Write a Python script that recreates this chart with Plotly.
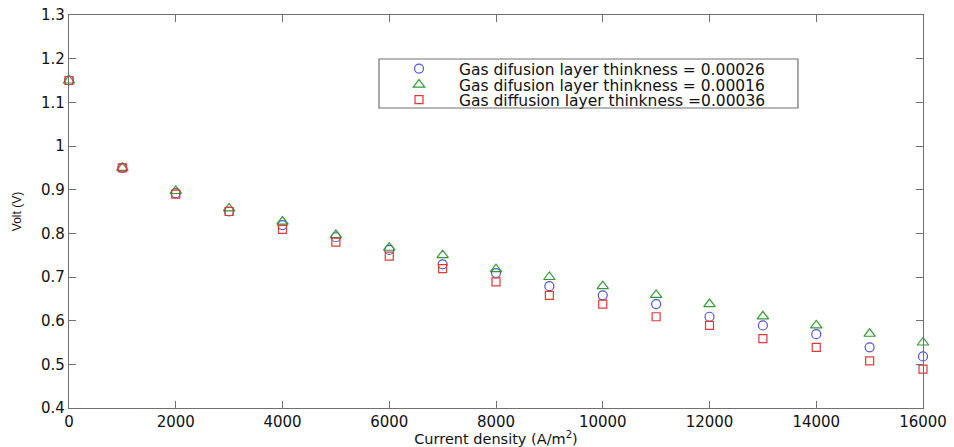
import plotly.graph_objects as go

current = [0, 1000, 2000, 3000, 4000, 5000, 6000, 7000, 8000, 9000, 10000,
           11000, 12000, 13000, 14000, 15000, 16000]
volt_026 = [1.15, 0.95, 0.892, 0.850, 0.819, 0.791, 0.762, 0.729, 0.709, 0.679, 0.658,
            0.638, 0.609, 0.589, 0.569, 0.539, 0.518]
volt_016 = [1.15, 0.95, 0.897, 0.857, 0.827, 0.796, 0.767, 0.750, 0.718, 0.700, 0.679,
            0.659, 0.638, 0.610, 0.589, 0.570, 0.550]
volt_036 = [1.15, 0.95, 0.890, 0.850, 0.809, 0.780, 0.748, 0.719, 0.689, 0.658, 0.638,
            0.609, 0.589, 0.559, 0.539, 0.508, 0.489]

names = ["Gas difusion layer thinkness = 0.00026",
         "Gas difusion layer thinkness = 0.00016",
         "Gas diffusion layer thinkness =0.00036"]

x_ticks = [0, 2000, 4000, 6000, 8000, 10000, 12000, 14000, 16000]
x_tick_text = ["0", "2000", "4000", "6000", "8000", "10000", "12000", "14000", "16000"]
y_ticks = [0.4, 0.5, 0.6, 0.7, 0.8, 0.9, 1.0, 1.1, 1.2, 1.3]
y_tick_text = ["0.4", "0.5", "0.6", "0.7", "0.8", "0.9", "1", "1.1", "1.2", "1.3"]

FONT = "DejaVu Sans"
AXC = "#707070"

fig = go.Figure()
fig.add_trace(go.Scatter(x=current, y=volt_026, mode="markers", name=names[0], cliponaxis=False,
                         legend="legend",
                         marker=dict(symbol="circle-open", size=9, color="#5050d8",
                                     line=dict(width=1.2))))
fig.add_trace(go.Scatter(x=current, y=volt_016, mode="markers", name=names[1], cliponaxis=False,
                         legend="legend2",
                         marker=dict(symbol="triangle-up-open", size=10, color="#339933",
                                     line=dict(width=1.2))))
fig.add_trace(go.Scatter(x=current, y=volt_036, mode="markers", name=names[2], cliponaxis=False,
                         legend="legend3",
                         marker=dict(symbol="square-open", size=8, color="#e03838",
                                     line=dict(width=1.2))))

axis_common = dict(showgrid=False, zeroline=False, showline=True, linecolor=AXC,
                   linewidth=1.3, mirror="ticks", ticks="inside", ticklen=7,
                   tickcolor=AXC, automargin=False, ticklabeloverflow="allow",
                   tickfont=dict(family=FONT, size=15, color="#111"))

fig.update_xaxes(range=[0, 16000], tickvals=x_ticks, ticktext=x_tick_text,
                 title=dict(text="Current density (A/m<sup>2</sup>)",
                            font=dict(family=FONT, size=14.5, color="#111"), standoff=0),
                 **axis_common)
fig.update_yaxes(range=[0.4, 1.3], tickvals=y_ticks, ticktext=y_tick_text,
                 title=dict(text="Volt (V)",
                            font=dict(family="Liberation Sans Narrow, Liberation Sans", size=12,
                                      color="#111"),
                            standoff=16),
                 **axis_common)

leg_common = dict(xanchor="left", yanchor="middle", bgcolor="rgba(0,0,0,0)",
                  borderwidth=0, font=dict(family=FONT, size=15.5, color="#111"),
                  itemwidth=70)
fig.update_layout(
    width=954, height=447,
    margin=dict(l=69, r=31, t=15, b=39),
    paper_bgcolor="white", plot_bgcolor="white",
    showlegend=True,
    legend=dict(x=0.363, y=0.8626, **leg_common),
    legend2=dict(x=0.363, y=0.8219, **leg_common),
    legend3=dict(x=0.363, y=0.7837, **leg_common),
    shapes=[dict(type="rect", xref="x domain", yref="y domain",
                 x0=0.363, x1=0.8536, y0=0.7634, y1=0.888,
                 line=dict(color=AXC, width=1.2), fillcolor="white", layer="below")],
)

# remove the default 8px page margin so the figure fills the window exactly
fig.write_html("out.html",
               config=dict(displayModeBar=False),
               post_script="document.body.style.margin='0';document.body.style.overflow='hidden';")
